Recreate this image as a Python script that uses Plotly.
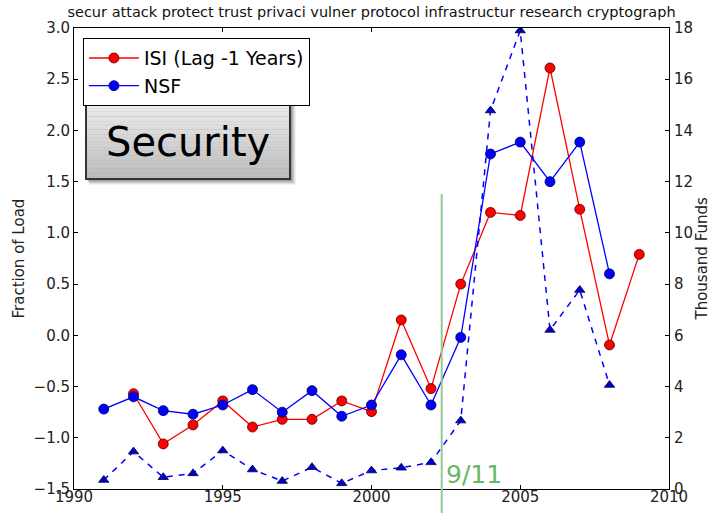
import plotly.graph_objects as go

# ---- data ----
isi_years = [1992, 1993, 1994, 1995, 1996, 1997, 1998, 1999, 2000, 2001, 2002, 2003, 2004, 2005, 2006, 2007, 2008, 2009]
isi_values = [-0.57, -1.06, -0.875, -0.64, -0.895, -0.82, -0.82, -0.64, -0.745, 0.15, -0.52, 0.50, 1.20, 1.17, 2.61, 1.23, -0.094, 0.79]

nsf_years = [1991, 1992, 1993, 1994, 1995, 1996, 1997, 1998, 1999, 2000, 2001, 2002, 2003, 2004, 2005, 2006, 2007, 2008]
nsf_values = [-0.72, -0.60, -0.735, -0.77, -0.68, -0.53, -0.75, -0.54, -0.79, -0.68, -0.19, -0.68, -0.02, 1.77, 1.886, 1.50, 1.886, 0.60]

fund_years = nsf_years
fund_values = [0.35, 1.46, 0.46, 0.61, 1.50, 0.76, 0.31, 0.85, 0.22, 0.72, 0.83, 1.04, 2.67, 14.78, 17.9, 6.21, 7.77, 4.06]

event_year = 2002.36
event_label = "9/11"
title_text = "secur attack protect trust privaci vulner protocol infrastructur research cryptograph"
topic_label = "Security"
left_title = "Fraction of Load"
right_title = "Thousand Funds"

FONT = "DejaVu Sans"

fig = go.Figure()

fig.add_trace(go.Scatter(
    x=isi_years, y=isi_values, name="ISI (Lag -1 Years)", mode="lines+markers",
    line=dict(color="#ff0000", width=1.3),
    marker=dict(symbol="circle", size=10, color="#ff0000", line=dict(color="#550000", width=0.8)),
))
fig.add_trace(go.Scatter(
    x=nsf_years, y=nsf_values, name="NSF", mode="lines+markers",
    line=dict(color="#0000ff", width=1.3),
    marker=dict(symbol="circle", size=10, color="#0000ff", line=dict(color="#000055", width=0.8)),
))
fig.add_trace(go.Scatter(
    x=fund_years, y=fund_values, name="Funds", mode="lines+markers", yaxis="y2",
    showlegend=False,
    line=dict(color="#0000ff", width=1.5, dash="6px,6px"),
    marker=dict(symbol="triangle-up", size=9, color="#0000cc", line=dict(color="#000044", width=0.8)),
))

shapes = []
# vertical event line
shapes.append(dict(type="line", xref="x", yref="paper", x0=event_year, x1=event_year,
                   y0=-0.06, y1=0.64, line=dict(color="#8fcc8f", width=2), layer="above"))

# "Security" box with shadow and vertical gradient
bx0, bx1 = 0.0202, 0.363
by0, by1 = 0.6725, 0.8416
pxw, pxh = 1 / 595.0, 1 / 461.0
for k, a in [(6, 0.05), (5, 0.07), (4, 0.09), (3, 0.11), (2, 0.13)]:
    shapes.append(dict(type="rect", xref="paper", yref="paper",
                       x0=bx0 + k * pxw * 0.6, x1=bx1 + k * pxw,
                       y0=by0 - k * pxh, y1=by1 - k * pxh * 0.6,
                       fillcolor=f"rgba(0,0,0,{a})", line=dict(width=0), layer="above"))
n = 30
for i in range(n):
    t = i / (n - 1)
    g = int(round(238 - t * (238 - 188)))
    ya = by1 - (by1 - by0) * i / n
    yb = by1 - (by1 - by0) * (i + 1) / n
    shapes.append(dict(type="rect", xref="paper", yref="paper", x0=bx0, x1=bx1,
                       y0=yb, y1=ya + 0.0005, fillcolor=f"rgb({g},{g},{g})",
                       line=dict(width=0), layer="above"))
shapes.append(dict(type="rect", xref="paper", yref="paper", x0=bx0, x1=bx1, y0=by0, y1=by1,
                   fillcolor="rgba(0,0,0,0)", line=dict(color="#333333", width=2), layer="above"))

annotations = [
    dict(text=topic_label, xref="paper", yref="paper", x=(bx0 + bx1) / 2, y=(by0 + by1) / 2 - 0.004,
         xanchor="center", yanchor="middle", showarrow=False,
         font=dict(family=FONT, size=40, color="#000000")),
    dict(text=event_label, xref="x", yref="paper", x=event_year, y=0.0,
         xanchor="left", yanchor="bottom", xshift=2, yshift=-2, showarrow=False,
         font=dict(family=FONT, size=25, color="#66b866")),
    dict(text=left_title, xref="paper", yref="paper", x=-(74 - 18) / 595.0, y=0.5,
         xanchor="center", yanchor="middle", textangle=-90, showarrow=False,
         font=dict(family=FONT, size=15, color="#222222")),
    dict(text=right_title, xref="paper", yref="paper", x=1 + (701 - 669) / 595.0, y=0.5,
         xanchor="center", yanchor="middle", textangle=-90, showarrow=False,
         font=dict(family=FONT, size=15, color="#222222")),
]

TICKFONT = dict(family=FONT, size=15, color="#222222")

fig.update_layout(
    width=710, height=513,
    margin=dict(l=74, r=41, t=28, b=24),
    paper_bgcolor="white", plot_bgcolor="white",
    font=dict(family=FONT, size=15, color="#222222"),
    title=dict(text=title_text, x=0.5, xref="paper", y=0.977, yanchor="middle",
               font=dict(family=FONT, size=14.5, color="#111111")),
    showlegend=True,
    legend=dict(x=0.015, y=0.978, xanchor="left", yanchor="top",
                bgcolor="white", bordercolor="#000000", borderwidth=1,
                font=dict(family=FONT, size=19, color="#000000"),
                itemwidth=50, tracegroupgap=0),
    xaxis=dict(range=[1990, 2010], dtick=5, tick0=1990, showgrid=False, zeroline=False,
               showline=True, linecolor="#000000", linewidth=1, mirror="ticks",
               ticks="inside", ticklen=4, tickcolor="#000000", automargin=False,
               ticklabelstandoff=-6, tickfont=TICKFONT),
    yaxis=dict(range=[-1.5, 3.0], dtick=0.5, tick0=-1.5, tickformat=".1f", showgrid=False,
               zeroline=False, showline=True, linecolor="#000000", linewidth=1,
               ticks="inside", ticklen=4, tickcolor="#000000", automargin=False,
               ticklabelstandoff=0, tickfont=TICKFONT),
    yaxis2=dict(range=[0, 18], dtick=2, tick0=0, overlaying="y", side="right", showgrid=False,
                zeroline=False, showline=True, linecolor="#000000", linewidth=1,
                ticks="inside", ticklen=4, tickcolor="#000000", automargin=False,
                ticklabelstandoff=1, tickfont=TICKFONT),
    shapes=shapes,
    annotations=annotations,
)

fig.write_html("out.html", config={"displayModeBar": False},
               post_script="document.body.style.margin='0';")
